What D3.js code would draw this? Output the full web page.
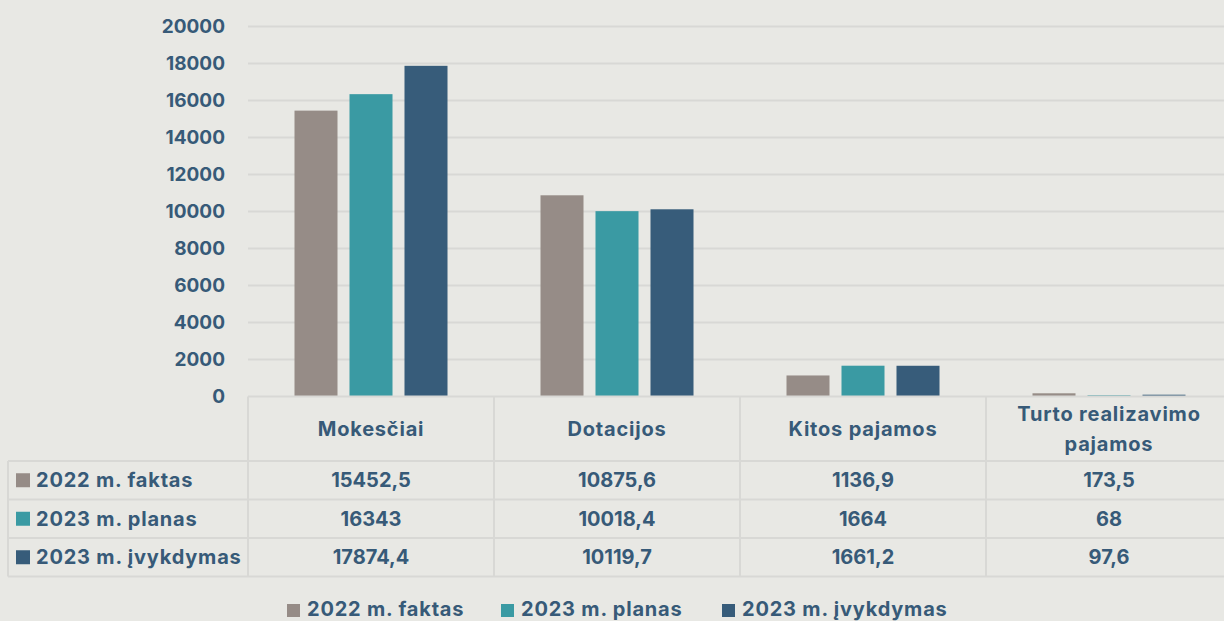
<!DOCTYPE html>
<html>
<head>
<meta charset="utf-8">
<script src="https://cdn.jsdelivr.net/npm/d3@7"></script>
<style>
  body { margin: 0; background: #e8e8e4; }
  svg { display: block; font-family: Inter, "Open Sans", sans-serif; font-weight: 700; }
  .lbl { letter-spacing: 0.8px; }
</style>
</head>
<body>
<script>
var categories = ["Mokesčiai", "Dotacijos", "Kitos pajamos", "Turto realizavimo pajamos"];
var categoryLines = [["Mokesčiai"], ["Dotacijos"], ["Kitos pajamos"], ["Turto realizavimo", "pajamos"]];
var series = ["2022 m. faktas", "2023 m. planas", "2023 m. įvykdymas"];
var faktas2022 = [15452.5, 10875.6, 1136.9, 173.5];
var planas2023 = [16343, 10018.4, 1664, 68];
var ivykdymas2023 = [17874.4, 10119.7, 1661.2, 97.6];
var yTicks = [0, 2000, 4000, 6000, 8000, 10000, 12000, 14000, 16000, 18000, 20000];
var colors = ["#968c87", "#3a9aa3", "#375c7a"];

var values = [faktas2022, planas2023, ivykdymas2023];
var WIDTH = 1224, HEIGHT = 621;
var TEXT = "#375a78", GRID = "#d8d8d5";

var fmt = function(v) { return String(v).replace(".", ","); };

var svg = d3.select("body").append("svg")
    .attr("width", WIDTH)
    .attr("height", HEIGHT);

var y = d3.scaleLinear().domain([0, 20000]).range([396.5, 26.5]);
var x = d3.scaleBand().domain(categories).range([248, 1232]);
var xs = d3.scaleBand().domain(series).range([-82.5, 82.5]).paddingInner(0.218).paddingOuter(0.109);

// gridlines
svg.append("g").selectAll("line")
   .data(yTicks.slice(1))
   .enter().append("line")
   .attr("x1", 248).attr("x2", WIDTH)
   .attr("y1", d => y(d)).attr("y2", d => y(d))
   .attr("stroke", GRID).attr("stroke-width", 2);

// y labels
svg.append("g").selectAll("text")
   .data(yTicks)
   .enter().append("text")
   .attr("x", 225).attr("y", d => y(d))
   .attr("dy", "0.36em")
   .attr("text-anchor", "end")
   .attr("font-size", 19)
   .attr("fill", TEXT)
   .text(d => d);

// bars
series.forEach(function(s, i) {
    svg.append("g").selectAll("rect")
       .data(categories)
       .enter().append("rect")
       .attr("x", c => x(c) + x.bandwidth() / 2 + xs(s))
       .attr("width", xs.bandwidth())
       .attr("y", (c, j) => y(values[i][j]))
       .attr("height", (c, j) => y(0) - y(values[i][j]))
       .attr("fill", colors[i]);
});

// data table
var tableTop = 396.5, headerBottom = 461, rowH = 38.5, tableLeft = 8;
var rowY = series.map((s, i) => headerBottom + i * rowH);
var tableBottom = headerBottom + series.length * rowH;
var tg = svg.append("g").attr("stroke", GRID).attr("stroke-width", 2);

tg.append("line").attr("x1", 248).attr("x2", WIDTH).attr("y1", tableTop).attr("y2", tableTop);
rowY.concat([tableBottom]).forEach(function(yy) {
    tg.append("line").attr("x1", tableLeft).attr("x2", WIDTH).attr("y1", yy).attr("y2", yy);
});
tg.append("line").attr("x1", tableLeft).attr("x2", tableLeft).attr("y1", headerBottom).attr("y2", tableBottom);
categories.forEach(function(c) {
    tg.append("line").attr("x1", x(c)).attr("x2", x(c)).attr("y1", tableTop).attr("y2", tableBottom);
});

// header
categories.forEach(function(c, j) {
    var lines = categoryLines[j];
    var t = svg.append("text")
       .attr("class", "lbl")
       .attr("text-anchor", "middle")
       .attr("font-size", 20)
       .attr("fill", TEXT);
    lines.forEach(function(l, k) {
        t.append("tspan")
         .attr("x", x(c) + x.bandwidth() / 2)
         .attr("y", (tableTop + headerBottom) / 2 + (k - (lines.length - 1) / 2) * 30)
         .attr("dy", "0.36em")
         .text(l);
    });
});

// rows
series.forEach(function(s, i) {
    var cy = rowY[i] + rowH / 2;
    svg.append("rect").attr("x", 16).attr("y", cy - 7).attr("width", 14).attr("height", 14).attr("fill", colors[i]);
    svg.append("text").attr("class", "lbl").attr("x", 36).attr("y", cy).attr("dy", "0.36em")
       .attr("font-size", 20).attr("fill", TEXT).text(s);
    svg.append("g").selectAll("text")
       .data(categories)
       .enter().append("text")
       .attr("x", c => x(c) + x.bandwidth() / 2)
       .attr("y", cy).attr("dy", "0.36em")
       .attr("text-anchor", "middle")
       .attr("font-size", 20).attr("fill", TEXT)
       .text((c, j) => fmt(values[i][j]));
});

// legend
var legendX = [287, 501, 722];
series.forEach(function(s, i) {
    svg.append("rect").attr("x", legendX[i]).attr("y", 604).attr("width", 13).attr("height", 13).attr("fill", colors[i]);
    svg.append("text").attr("class", "lbl").attr("x", legendX[i] + 20).attr("y", 616)
       .attr("font-size", 20).attr("fill", TEXT).text(s);
});
</script>
</body>
</html>
